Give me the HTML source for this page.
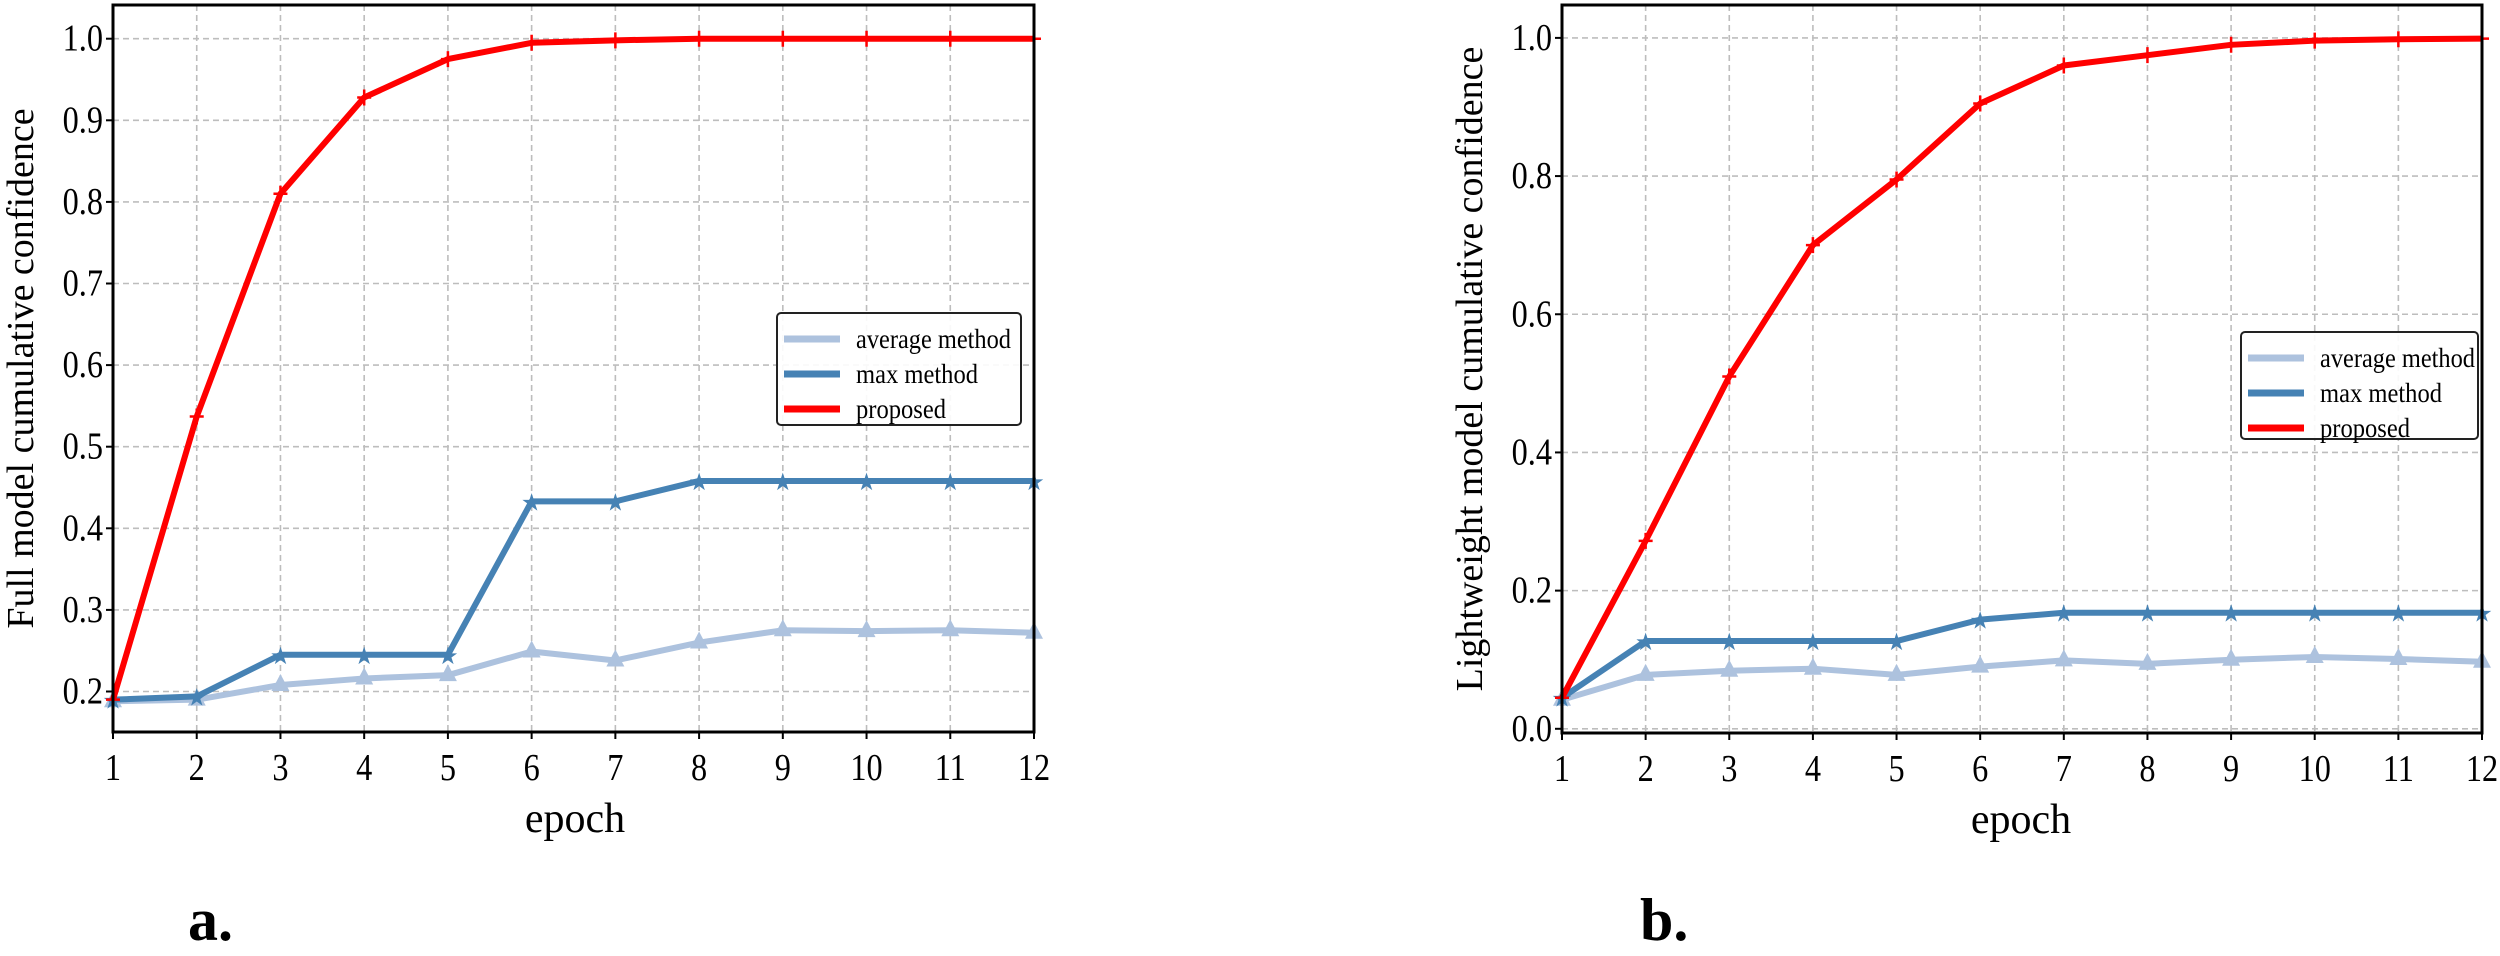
<!DOCTYPE html>
<html><head><meta charset="utf-8"><style>
html,body{margin:0;padding:0;background:#fff;}
svg{display:block;font-family:"Liberation Serif",serif;}
</style></head><body>
<svg id="s" width="2500" height="956" xmlns="http://www.w3.org/2000/svg"></svg>
<script>
const S=document.getElementById('s');let h='';
function chart(o){
 const {L,R,T,B,y0,ypx,v0,ticks,fmt,data,ylabel,ylx,leg,epx,lbl,lblx}=o;
 const X=i=>L+(R-L)*(i)/11, Y=v=>y0-(v-v0)*ypx;
 for(let i=0;i<12;i++){const x=X(i);h+=`<line x1="${x}" y1="${T}" x2="${x}" y2="${B}" stroke="#bdbdbd" stroke-width="1.6" stroke-dasharray="6,4"/>`;
  h+=`<text transform="translate(${x},${B+48}) scale(0.85,1)" font-size="38" text-anchor="middle">${i+1}</text>`;}
 ticks.forEach(t=>{const y=Y(t);h+=`<line x1="${L}" y1="${y}" x2="${R}" y2="${y}" stroke="#bdbdbd" stroke-width="1.6" stroke-dasharray="6,4"/>`;
  h+=`<line x1="${L-7}" y1="${y}" x2="${L}" y2="${y}" stroke="#000" stroke-width="2"/>`;
  h+=`<text transform="translate(${L-10},${y+12}) scale(0.85,1)" font-size="38" text-anchor="end">${fmt(t)}</text>`;});
 for(let i=0;i<12;i++){h+=`<line x1="${X(i)}" y1="${B}" x2="${X(i)}" y2="${B+7}" stroke="#000" stroke-width="2"/>`;}
 const ser=[[data.avg,'#adc2de','tri'],[data.max,'#4682b4','star'],[data.pro,'#ff0000','plus']];
 ser.forEach(([d,c,m])=>{h+=`<polyline fill="none" stroke="${c}" stroke-width="6" stroke-linejoin="round" points="${d.map((v,i)=>X(i)+','+Y(v)).join(' ')}"/>`;
  d.forEach((v,i)=>{const x=X(i),y=Y(v);
   if(m=='tri')h+=`<polygon points="${x},${y-11} ${x-9},${y+6} ${x+9},${y+6}" fill="${c}"/>`;
   else if(m=='star')h+=`<text x="${x}" y="${y+9}" font-size="24" fill="${c}" text-anchor="middle" font-family="DejaVu Sans">★</text>`;
   else h+=`<path d="M${x-7} ${y}H${x+7}M${x} ${y-8}V${y+8}" stroke="${c}" stroke-width="2.5"/>`;});});
 h+=`<rect x="${L}" y="${T}" width="${R-L}" height="${B-T}" fill="none" stroke="#000" stroke-width="3"/>`;
 const [lx,ly,lw,lh]=leg;
 h+=`<rect x="${lx}" y="${ly}" width="${lw}" height="${lh}" rx="4" fill="#fff" fill-opacity="0.9" stroke="#222" stroke-width="2"/>`;
 const tl=[155,122,90];
 ['average method','max method','proposed'].forEach((t,k)=>{const yy=ly+26+k*35;const c=ser[k][1];
  h+=`<line x1="${lx+7}" y1="${yy}" x2="${lx+63}" y2="${yy}" stroke="${c}" stroke-width="7"/>`;
  h+=`<text x="${lx+79}" y="${yy+9}" font-size="27" textLength="${tl[k]}" lengthAdjust="spacingAndGlyphs">${t}</text>`;});
 h+=`<text transform="translate(${ylx},${(T+B)/2}) rotate(-90)" font-size="38" text-anchor="middle">${ylabel}</text>`;
 h+=`<text x="${epx}" y="${B+100}" font-size="42" text-anchor="middle">epoch</text>`;
 h+=`<text x="${lblx}" y="940" font-size="60" font-weight="bold">${lbl}</text>`;
}
chart({L:113,R:1034,T:5,B:732,y0:691.5,ypx:816,v0:0.2,ticks:[0.2,0.3,0.4,0.5,0.6,0.7,0.8,0.9,1.0],fmt:t=>t.toFixed(1),
 data:{pro:[.19,.537,.81,.928,.975,.995,.998,1,1,1,1,1],max:[.19,.194,.245,.245,.245,.433,.433,.458,.458,.458,.458,.458],avg:[.188,.19,.208,.216,.22,.249,.238,.26,.275,.274,.275,.272]},
 ylabel:'Full model cumulative confidence',ylx:33,leg:[777,313,244,112],epx:575,lbl:'a.',lblx:188});
chart({L:1562,R:2482,T:5,B:733,y0:728.8,ypx:690.9,v0:0,ticks:[0,0.2,0.4,0.6,0.8,1.0],fmt:t=>t.toFixed(1),
 data:{pro:[.045,.272,.51,.70,.795,.905,.96,.975,.99,.996,.998,.999],max:[.045,.127,.127,.127,.127,.158,.168,.168,.168,.168,.168,.168],avg:[.042,.078,.084,.087,.078,.09,.099,.094,.1,.104,.101,.097]},
 ylabel:'Lightweight model cumulative confidence',ylx:1482,leg:[2241,332,237,107],epx:2021,lbl:'b.',lblx:1640});
S.innerHTML=h;
</script>
</body></html>
